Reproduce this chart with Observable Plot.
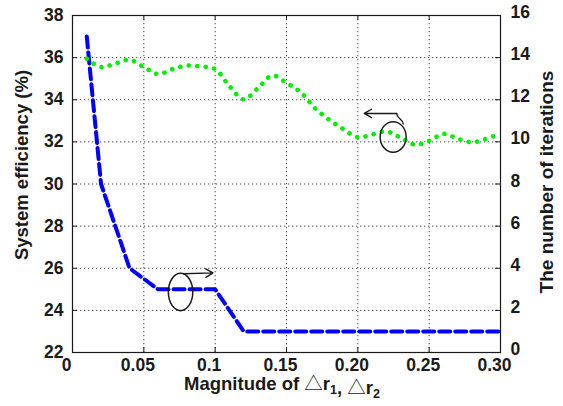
<!DOCTYPE html>
<html><head><meta charset="utf-8">
<script src="https://cdn.jsdelivr.net/npm/d3@7"></script>
<script src="https://cdn.jsdelivr.net/npm/@observablehq/plot@0.6"></script>
<style>body{margin:0;background:#fff}</style>
</head><body><div id="chart"></div>
<script>
// ---- data ----
const xTicks = [0, 0.05, 0.1, 0.15, 0.2, 0.25, 0.3];
const xTickLabels = ["0", "0.05", "0.1", "0.15", "0.20", "0.25", "0.30"];
const effTicks = [22, 24, 26, 28, 30, 32, 34, 36, 38];
const iterTicks = [0, 2, 4, 6, 8, 10, 12, 14, 16];

// System efficiency (%) — green dotted line
const effX = [0.01, 0.02, 0.03, 0.04, 0.05, 0.06, 0.07, 0.08, 0.09, 0.10,
              0.11, 0.12, 0.13, 0.14, 0.15, 0.16, 0.17, 0.18, 0.19, 0.20,
              0.21, 0.22, 0.23, 0.24, 0.25, 0.26, 0.27, 0.28, 0.29, 0.30];
const effY = [35.95, 35.55, 35.72, 35.9, 35.55, 35.22, 35.45, 35.62, 35.58, 35.45,
              34.65, 34.02, 34.55, 35.15, 34.8, 34.35, 33.6, 33.05, 32.6, 32.22,
              32.35, 32.5, 32.2, 31.87, 32.05, 32.38, 32.15, 31.98, 32.15, 32.4];

// Number of iterations — blue dashed line
const iterX = [0.01, 0.02, 0.04, 0.06, 0.10, 0.12, 0.30];
const iterY = [15, 8, 4, 3, 3, 1, 1];

// annotation anchors (data units: x, efficiency)
const ellipseX = [0.0761, 0.2251];
const ellipseY = [24.85, 32.21];
const arrowRight = {x1: 0.0778, y1: 25.74, x2: 0.0985, y2: 25.78};
const arrowLeft = {x1: 0.2272, y1: 33.35, x2: 0.2045, y2: 33.35};
const arrowLeftTail = [{x: 0.2272, y: 33.35}, {x: 0.2318, y: 32.85}];

// ---- tables ----
const effData = effX.map((x, i) => ({x, y: effY[i]}));
const iterData = iterX.map((x, i) => ({x, iter: iterY[i]}));
const effMin = effTicks[0];

const ink = "#1a1a1a";
const chart = Plot.plot({
  width: 563, height: 406,
  marginLeft: 72, marginRight: 63, marginTop: 15, marginBottom: 54,
  style: {fontFamily: "'Liberation Sans', Arial, sans-serif", fontSize: "17.5px", fontWeight: "bold", background: "#fff", overflow: "visible"},
  x: {domain: [0, 0.3]},
  y: {domain: [22, 38]},
  marks: [
    Plot.gridX(xTicks, {stroke: "#333", strokeOpacity: 0.9, strokeDasharray: "1.3,2.7", strokeWidth: 1}),
    Plot.gridY(effTicks, {stroke: "#333", strokeOpacity: 0.9, strokeDasharray: "1.3,2.7", strokeWidth: 1}),
    Plot.tickX(xTicks, {x: d => d, insetTop: 332, stroke: ink}),
    Plot.tickX(xTicks, {x: d => d, insetBottom: 332, stroke: ink}),
    Plot.tickY(effTicks, {y: d => d, insetRight: 423, stroke: ink}),
    Plot.tickY(effTicks, {y: d => d, insetLeft: 423, stroke: ink}),
    Plot.axisX(xTicks, {anchor: "bottom", tickSize: 0, tickPadding: 6, label: null, dx: -6,
      tickFormat: d => xTickLabels[xTicks.indexOf(d)], fill: ink}),
    Plot.axisY(effTicks, {anchor: "left", tickSize: 0, tickPadding: 9, label: null, fill: ink}),
    Plot.axisY(effTicks, {anchor: "right", tickSize: 0, tickPadding: 10, label: null, dy: -3,
      tickFormat: d => String(iterTicks[effTicks.indexOf(d)]), fill: ink}),
    Plot.line(iterData, {x: "x", y: d => effMin + d.iter, stroke: "#0000ff", strokeWidth: 4, strokeDasharray: "11,5"}),
    Plot.line(effData, {x: "x", y: "y", curve: "catmull-rom", stroke: "#00f000", strokeWidth: 4.6, strokeDasharray: "0.1,8.4", strokeLinecap: "round"}),
    Plot.arrow([arrowRight], {x1: "x1", y1: "y1", x2: "x2", y2: "y2", stroke: ink, strokeWidth: 1.4, headLength: 9, bend: 0}),
    Plot.arrow([arrowLeft], {x1: "x1", y1: "y1", x2: "x2", y2: "y2", stroke: ink, strokeWidth: 1.4, headLength: 9, bend: 0}),
    Plot.line(arrowLeftTail, {x: "x", y: "y", stroke: ink, strokeWidth: 1.4, curve: "bump-y"}),
    Plot.frame({stroke: ink, strokeWidth: 1.2})
  ]
});

const svg = d3.select(chart);
const sx = chart.scale("x"), sy = chart.scale("y");
const radii = [[12.2, 18.7], [13, 15.3]];
ellipseX.forEach((x, i) => {
  svg.append("ellipse")
    .attr("cx", sx.apply(x)).attr("cy", sy.apply(ellipseY[i]))
    .attr("rx", radii[i][0]).attr("ry", radii[i][1])
    .attr("fill", "none").attr("stroke", ink).attr("stroke-width", 1.5);
});

function addTitle(parts, transform, size) {
  const t = svg.append("text")
    .attr("transform", transform)
    .attr("text-anchor", "middle")
    .attr("font-size", size).attr("font-weight", "bold").attr("fill", ink)
    .attr("font-family", "'Liberation Sans', Arial, sans-serif");
  parts.forEach(([s, kind]) => {
    if (kind === "sub") {
      t.append("tspan").attr("font-size", size * 0.68).attr("dy", 4).text(s);
      t.append("tspan").attr("dy", -4).text("");
    } else if (kind === "sym") {
      t.append("tspan").attr("font-family", "'Noto Sans CJK SC', 'DejaVu Sans', sans-serif").attr("font-weight", "normal").text(s);
    } else {
      t.append("tspan").text(s);
    }
  });
}
addTitle([["Magnitude of "], ["\u25B3", "sym"], ["r"], ["1", "sub"], [", "], ["\u25B3", "sym"], ["r"], ["2", "sub"]], "translate(282,390)", 18.5);
addTitle([["System efficiency (%)"]], "translate(28,165) rotate(-90)", 18.5);
addTitle([["The number of iterations"]], "translate(553,182) rotate(-90)", 19);

document.getElementById("chart").appendChild(chart);
</script>
</body></html>
